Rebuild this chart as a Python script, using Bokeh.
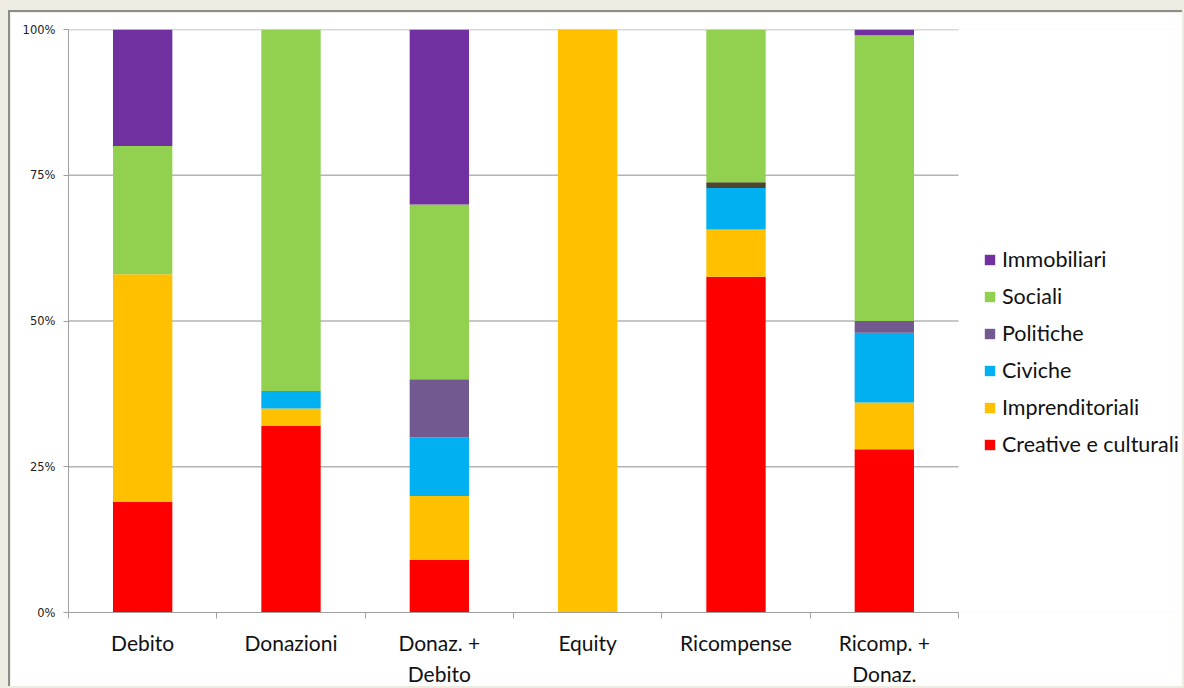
import numpy as np
from bokeh.plotting import figure
from bokeh.models import (ColumnDataSource, FixedTicker, Legend, LegendItem,
                          Range1d)
from bokeh.layouts import column
from bokeh.embed import file_html
from bokeh.resources import INLINE

categories = ["Debito", "Donazioni", "Donaz. +\nDebito", "Equity",
              "Ricompense", "Ricomp. +\nDonaz."]
creative = [19, 32, 9, 0, 57.6, 28]
imprenditoriali = [39, 3, 11, 100, 8.1, 8]
civiche = [0, 3, 10, 0, 7.1, 12]
politiche = [0, 0, 10, 0, 0, 2]
altro = [0, 0, 0, 0, 1.0, 0]
sociali = [22, 62, 30, 0, 26.2, 49]
immobiliari = [20, 0, 30, 0, 0, 1]
y_ticks = [0, 25, 50, 75, 100]
y_tick_labels = ["0%", "25%", "50%", "75%", "100%"]

series = [
    ("Creative e culturali", creative, "#ff0000"),
    ("Imprenditoriali", imprenditoriali, "#ffc000"),
    ("Civiche", civiche, "#00b0f0"),
    ("Politiche", politiche, "#725a91"),
    (None, altro, "#4b462d"),
    ("Sociali", sociali, "#92d050"),
    ("Immobiliari", immobiliari, "#7030a0"),
]

n = len(categories)
xpos = np.arange(n) + 0.5

# plot area: categories occupy 890 px of a 1116 px wide frame; legend sits in the rest
frame_w, cat_w = 1116, 890
x_end = n * frame_w / cat_w

p = figure(width=1174, height=676, output_backend="svg",
           toolbar_location=None,
           x_range=Range1d(0, x_end), y_range=Range1d(0, 100),
           min_border_left=58, min_border_right=0, min_border_top=17,
           min_border_bottom=76)
p.margin = (10, 0, 0, 8)
p.styles = {"border-left": "2px solid #8c8c8c", "border-top": "2px solid #8c8c8c"}
p.outline_line_color = None
p.background_fill_color = "white"
p.border_fill_color = "white"

# horizontal gridlines over the category area only
grid_y = [t for t in y_ticks if t > 0]
p.segment(x0=[0] * len(grid_y), x1=[n] * len(grid_y), y0=grid_y, y1=grid_y,
          line_color="#b4b4b4", line_width=1.5)

bottom = np.zeros(n)
renderers = {}
for name, vals, color in series:
    vals = np.array(vals, dtype=float)
    src = ColumnDataSource(dict(x=xpos, top=bottom + vals, bottom=bottom.copy()))
    r = p.vbar(x="x", top="top", bottom="bottom", width=0.4, source=src,
               fill_color=color, line_color=None)
    if name:
        renderers[name] = r
    bottom = bottom + vals

# axes
p.xaxis.bounds = (0, n)
p.xaxis.ticker = FixedTicker(ticks=list(xpos), minor_ticks=list(range(n + 1)))
p.xaxis.major_label_overrides = {float(x): c for x, c in zip(xpos, categories)}
p.xaxis.major_tick_line_color = None
p.xaxis.major_tick_out = 0
p.xaxis.major_tick_in = 0
p.xaxis.minor_tick_out = 6
p.xaxis.minor_tick_in = 0
p.xaxis.minor_tick_line_color = "#a0a0a0"
p.xaxis.axis_line_color = "#a0a0a0"
p.xaxis.major_label_text_font = "Lato"
p.xaxis.major_label_text_font_size = "21px"
p.xaxis.major_label_text_color = "#111111"
p.xaxis.major_label_text_line_height = 1.25
p.xaxis.major_label_standoff = 11

p.yaxis.ticker = FixedTicker(ticks=y_ticks, minor_ticks=[])
p.yaxis.major_label_overrides = {t: l for t, l in zip(y_ticks, y_tick_labels)}
p.yaxis.major_tick_out = 5
p.yaxis.major_tick_in = 0
p.yaxis.major_tick_line_color = "#a0a0a0"
p.yaxis.axis_line_color = "#a0a0a0"
p.yaxis.major_label_text_font = "DejaVu Sans"
p.yaxis.major_label_text_font_size = "11.5px"
p.yaxis.major_label_text_color = "#222222"
p.yaxis.major_label_standoff = 8

p.xgrid.grid_line_color = None
p.ygrid.grid_line_color = None

legend_order = ["Immobiliari", "Sociali", "Politiche", "Civiche",
                "Imprenditoriali", "Creative e culturali"]
legend = Legend(items=[LegendItem(label=nm, renderers=[renderers[nm]]) for nm in legend_order],
                location=(915, 155), orientation="vertical",
                glyph_width=13, glyph_height=13, label_height=20,
                label_standoff=6, spacing=11, padding=0, margin=0,
                border_line_color=None, background_fill_alpha=0,
                label_text_font="Lato", label_text_font_size="21.5px",
                label_text_color="#111111")
p.add_layout(legend, "center")

root = column(p, width=1184, height=688,
              styles={"background-color": "#eeece1"})

open("out.html", "w").write(file_html(root, INLINE))
